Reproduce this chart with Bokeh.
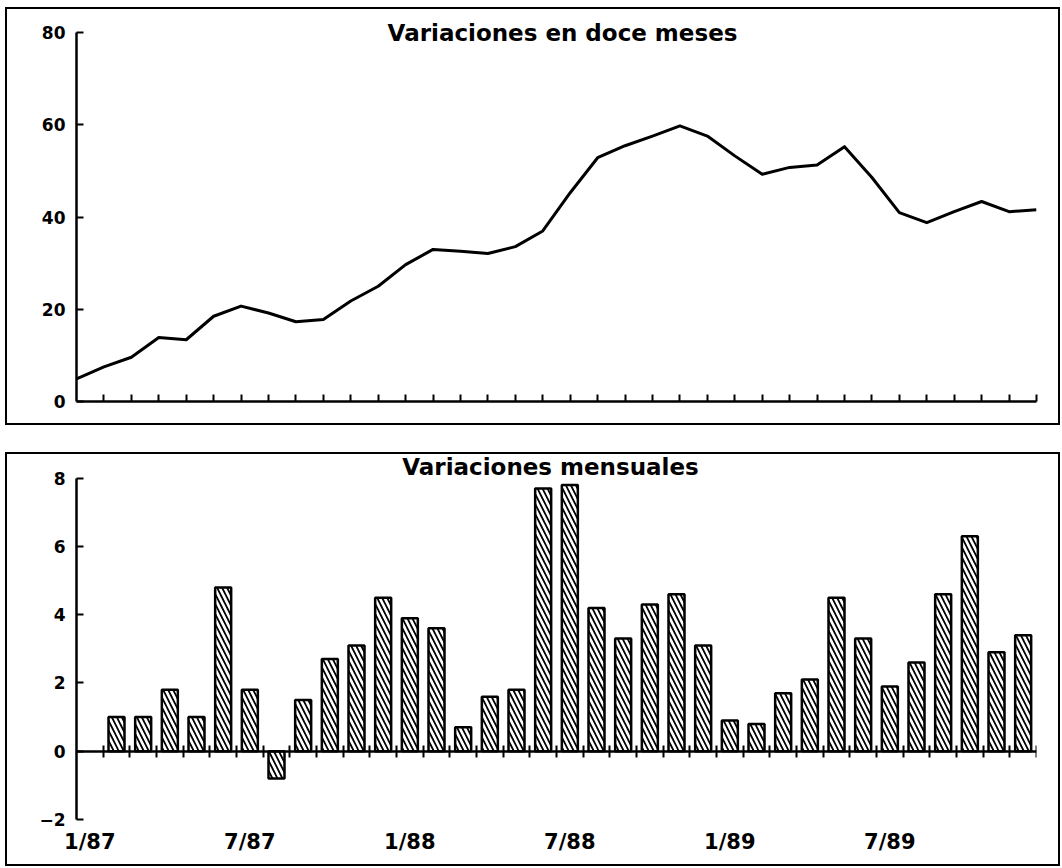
import numpy as np
from bokeh.plotting import figure
from bokeh.models import LinearAxis, FixedTicker, Label, Range1d
from bokeh.layouts import column
from bokeh.embed import file_html
from bokeh.resources import INLINE

# ---------------- data ----------------
months = ["1/87", "2/87", "3/87", "4/87", "5/87", "6/87", "7/87", "8/87", "9/87", "10/87", "11/87", "12/87",
          "1/88", "2/88", "3/88", "4/88", "5/88", "6/88", "7/88", "8/88", "9/88", "10/88", "11/88", "12/88",
          "1/89", "2/89", "3/89", "4/89", "5/89", "6/89", "7/89", "8/89", "9/89", "10/89", "11/89", "12/89"]

annual = [4.9, 7.5, 9.6, 13.9, 13.4, 18.5, 20.7, 19.2, 17.3, 17.8, 21.8, 25.0,
          29.7, 33.0, 32.6, 32.1, 33.6, 37.0, 45.3, 52.9, 55.5, 57.6, 59.8, 57.6,
          53.3, 49.3, 50.8, 51.3, 55.3, 48.6, 41.0, 38.8, 41.2, 43.4, 41.2, 41.6]

monthly = [None, 1.0, 1.0, 1.8, 1.0, 4.8, 1.8, -0.8, 1.5, 2.7, 3.1, 4.5,
           3.9, 3.6, 0.7, 1.6, 1.8, 7.7, 7.8, 4.2, 3.3, 4.3, 4.6, 3.1,
           0.9, 0.8, 1.7, 2.1, 4.5, 3.3, 1.9, 2.6, 4.6, 6.3, 2.9, 3.4]

label_months = ["1/87", "7/87", "1/88", "7/88", "1/89", "7/89"]
top_yticks = [0, 20, 40, 60, 80]
bottom_yticks = [-2, 0, 2, 4, 6, 8]
title_top = "Variaciones en doce meses"
title_bottom = "Variaciones mensuales"

FONT = "DejaVu Sans"
BORDER = {"border": "2px solid black"}

def style_axis(ax, size="17px"):
    ax.axis_line_width = 2.5
    ax.axis_line_color = "black"
    ax.major_tick_line_width = 2
    ax.major_tick_line_color = "black"
    ax.minor_tick_line_color = None
    ax.major_label_text_font = FONT
    ax.major_label_text_font_style = "bold"
    ax.major_label_text_font_size = size
    ax.major_label_text_color = "black"

n = len(months)

# ---------------- top panel ----------------
# headroom above the top tick so the title can sit on the 80 line
top_end = top_yticks[-1] * (380 / 367.7)
p1 = figure(width=1055, height=418, output_backend="svg", toolbar_location=None,
            x_range=Range1d(0, n - 1), y_range=Range1d(top_yticks[0], top_end),
            x_axis_type=None, y_axis_type=None,
            min_border_left=69, min_border_right=25, min_border_top=11, min_border_bottom=26,
            styles=BORDER)
p1.outline_line_color = None
p1.background_fill_color = "white"
p1.border_fill_color = "white"

xt = list(range(1, n))
xax1 = LinearAxis(ticker=FixedTicker(ticks=xt), major_tick_in=7, major_tick_out=0,
                  major_label_overrides={t: "" for t in xt})
style_axis(xax1)
p1.add_layout(xax1, "below")

yax1 = LinearAxis(ticker=FixedTicker(ticks=top_yticks), major_tick_in=7, major_tick_out=0,
                  major_label_standoff=11, bounds=(top_yticks[0], top_yticks[-1]))
style_axis(yax1)
p1.add_layout(yax1, "left")

p1.line(x=np.arange(n), y=annual, line_width=3, line_color="black", line_join="round")

p1.add_layout(Label(x=(n - 1) / 2, y=top_yticks[-1], text=title_top, text_align="center",
                    text_baseline="middle", x_offset=6, text_font=FONT, text_font_size="23px",
                    text_font_style="bold", text_color="black"))

# ---------------- bottom panel ----------------
bot_span = bottom_yticks[-1] - bottom_yticks[0]
bot_end = bottom_yticks[0] + bot_span * (363 / 341.3)
p2 = figure(width=1055, height=414, output_backend="svg", toolbar_location=None,
            x_range=Range1d(0, n), y_range=Range1d(bottom_yticks[0], bot_end),
            x_axis_type=None, y_axis_type=None,
            min_border_left=65, min_border_right=26, min_border_top=2, min_border_bottom=49,
            styles=BORDER)
p2.outline_line_color = None
p2.background_fill_color = "white"
p2.border_fill_color = "white"

lab_pos = [months.index(m) + 0.5 for m in label_months]
lax = LinearAxis(ticker=FixedTicker(ticks=lab_pos), major_tick_in=0, major_tick_out=0,
                 major_label_overrides=dict(zip(lab_pos, label_months)), major_label_standoff=10)
style_axis(lax, "21px")
lax.axis_line_color = None
lax.major_tick_line_color = None
p2.add_layout(lax, "below")

zt = list(range(1, n + 1))
zax = LinearAxis(fixed_location=0, ticker=FixedTicker(ticks=zt), major_tick_in=6, major_tick_out=6,
                 major_label_overrides={t: "" for t in zt}, major_label_standoff=0)
style_axis(zax, "1px")
p2.add_layout(zax, "below")

yax2 = LinearAxis(ticker=FixedTicker(ticks=bottom_yticks), major_tick_in=7, major_tick_out=0,
                  major_label_standoff=11, bounds=(bottom_yticks[0], bottom_yticks[-1]))
style_axis(yax2)
p2.add_layout(yax2, "left")

bx = [i + 0.5 for i, v in enumerate(monthly) if v is not None]
bt = [v for v in monthly if v is not None]
p2.vbar(x=bx, top=bt, bottom=0, width=0.6, fill_color="white", line_color="black", line_width=2.5,
        hatch_pattern="\\", hatch_color="black", hatch_scale=10, hatch_weight=1.8)

p2.add_layout(Label(x=n / 2, y=bottom_yticks[-1], text=title_bottom, text_align="center",
                    text_baseline="middle", y_offset=11, x_offset=-6, text_font=FONT,
                    text_font_size="23px", text_font_style="bold", text_color="black"))

layout = column(p1, p2, spacing=27, margin=(7, 0, 0, 5))
open("out.html", "w").write(file_html(layout, INLINE))
